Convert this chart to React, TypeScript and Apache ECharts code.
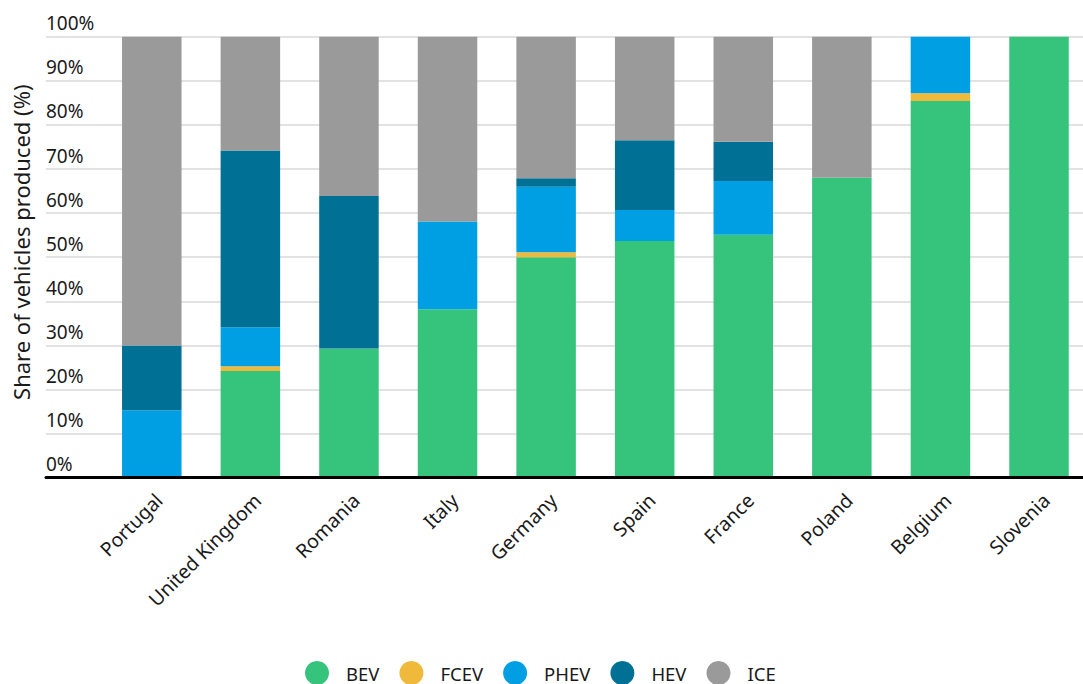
import React, { useEffect, useRef } from "react";
import * as echarts from "echarts";

const categories = ["Portugal", "United Kingdom", "Romania", "Italy", "Germany", "Spain", "France", "Poland", "Belgium", "Slovenia"];
const seriesNames = ["BEV", "FCEV", "PHEV", "HEV", "ICE"];
const bev = [0, 24.2, 29.3, 38.2, 50.0, 53.7, 55.1, 68.0, 85.4, 100];
const fcev = [0, 1.1, 0, 0, 1.1, 0, 0, 0, 1.8, 0];
const phev = [15.3, 8.8, 0, 19.9, 14.9, 7.0, 12.2, 0, 12.8, 0];
const hev = [14.7, 40.1, 34.6, 0, 1.9, 15.8, 8.9, 0, 0, 0];
const ice = [70.0, 25.8, 36.1, 41.9, 32.1, 23.5, 23.8, 32.0, 0, 0];
const colors = ["#36c47d", "#efba3c", "#009fe3", "#007095", "#9a9a9a"];
const yTicks = { min: 0, max: 100, interval: 10 };

const FONT = "'Noto Sans', sans-serif";

export default function App() {
  const ref = useRef<HTMLDivElement>(null);
  useEffect(() => {
    if (!ref.current) return;
    const chart = echarts.init(ref.current, undefined, { renderer: "svg" });
    const values = [bev, fcev, phev, hev, ice];
    chart.setOption({
      animation: false,
      textStyle: { fontFamily: FONT },
      grid: [
        { left: 102.5, top: 36.7, width: 985.8, height: 441, containLabel: false },
        { left: 46, top: 36.7, width: 1037, height: 441, containLabel: false },
      ],
      xAxis: [
        {
          type: "category",
          gridIndex: 0,
          data: categories,
          axisLine: { show: false },
          axisTick: { show: false },
          axisLabel: {
            rotate: 45,
            margin: 12,
            align: "right",
            verticalAlign: "top",
            fontSize: 19.5,
            color: "#1a1a1a",
            fontFamily: FONT,
            interval: 0,
          },
        },
        {
          type: "value",
          gridIndex: 1,
          min: 0,
          max: 1,
          z: 5,
          axisLine: { show: true, lineStyle: { color: "#000", width: 3 } },
          axisTick: { show: false },
          axisLabel: { show: false },
          splitLine: { show: false },
        },
      ],
      yAxis: [
        {
          type: "value",
          gridIndex: 0,
          ...yTicks,
          show: false,
          splitLine: { show: false },
        },
        {
          type: "value",
          gridIndex: 1,
          ...yTicks,
          name: "Share of vehicles produced (%)",
          nameLocation: "middle",
          nameRotate: 90,
          nameGap: 14,
          nameTextStyle: { fontSize: 22, color: "#1a1a1a", fontFamily: FONT, padding: [0, 0, 0, 30] },
          axisLine: { show: false },
          axisTick: { show: false },
          axisLabel: {
            inside: true,
            margin: 0,
            formatter: "{value}%",
            verticalAlign: "bottom",
            align: "left",
            fontSize: 19,
            color: "#1a1a1a",
            fontFamily: FONT,
            padding: [0, 0, 4, 0],
          },
          splitLine: { show: true, lineStyle: { color: "#d9d9d9", width: 1.5 } },
        },
      ],
      legend: {
        data: seriesNames,
        left: 300,
        top: 656,
        icon: "circle",
        itemWidth: 24,
        itemHeight: 24,
        itemGap: 20,
        textStyle: { fontSize: 18.5, color: "#1a1a1a", fontFamily: FONT, padding: [0, 0, 0, 12] },
      },
      series: seriesNames.map((name, i) => ({
        name,
        type: "bar",
        stack: "total",
        xAxisIndex: 0,
        yAxisIndex: 0,
        barWidth: 59.5,
        data: values[i],
        itemStyle: { color: colors[i] },
      })),
    });
    return () => chart.dispose();
  }, []);
  return (
    <div style={{ position: "absolute", left: 0, top: 0, width: 1083, height: 684, overflow: "hidden" }}>
      <div ref={ref} style={{ width: 1100, height: 684 }} />
    </div>
  );
}
